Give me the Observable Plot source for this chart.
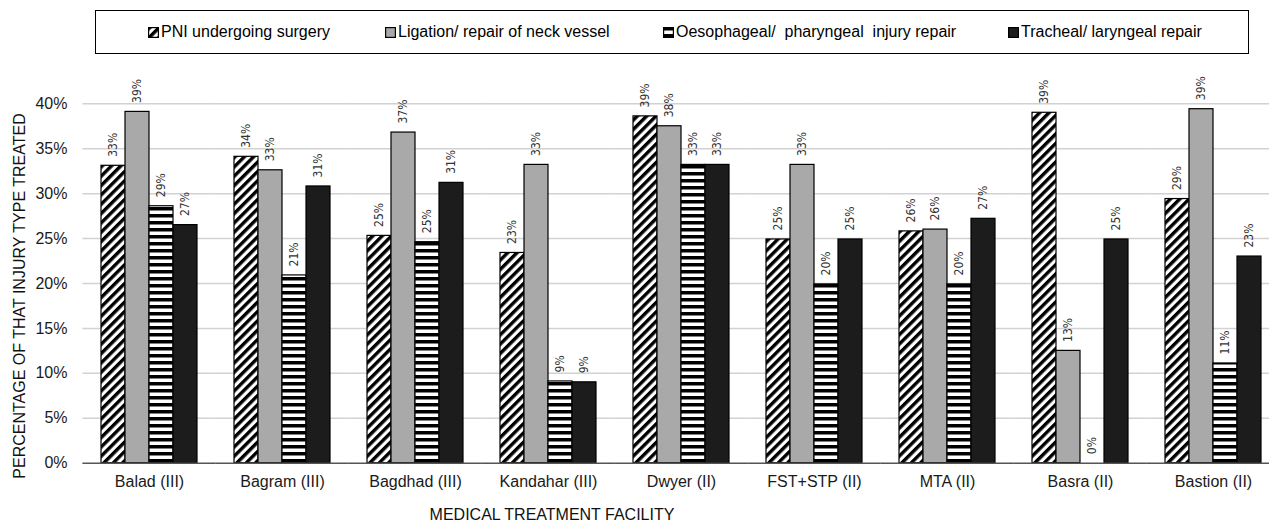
<!DOCTYPE html>
<html>
<head>
<meta charset="utf-8">
<script src="https://cdn.jsdelivr.net/npm/d3@7"></script>
<script src="https://cdn.jsdelivr.net/npm/@observablehq/plot@0.6"></script>
<style>
  body { margin: 0; background: #fff; font-family: "Liberation Sans", Arial, sans-serif; }
  #wrap { position: relative; width: 1269px; height: 523px; overflow: hidden; background: #fff; }
  #legend { position: absolute; left: 95px; top: 10px; width: 1152px; height: 42px; border: 1.4px solid #000;
            font-size: 16px; color: #000; }
  .item { position: absolute; top: 0; height: 42px; display: flex; align-items: center; white-space: pre; }
  .item svg { margin-right: 2px; }
  #chart { position: absolute; left: 0; top: 60px; }
  #ytitle { position: absolute; left: 20px; top: 296px; transform: translate(-50%, -50%) rotate(-90deg);
            white-space: nowrap; font-size: 16px; color: #111; }
  #xtitle { position: absolute; left: 552px; top: 515px; transform: translate(-50%, -50%);
            white-space: nowrap; font-size: 16px; color: #111; }
</style>
</head>
<body>
<div id="wrap">
  <div id="legend"></div>
  <div id="chart"></div>
  <div id="ytitle">PERCENTAGE OF THAT INJURY TYPE TREATED</div>
  <div id="xtitle">MEDICAL TREATMENT FACILITY</div>
</div>
<script>
const facilities = ["Balad (III)", "Bagram (III)", "Bagdhad (III)", "Kandahar (III)", "Dwyer (II)", "FST+STP (II)", "MTA (II)", "Basra (II)", "Bastion (II)"];
const series = ["PNI undergoing surgery", "Ligation/ repair of neck vessel", "Oesophageal/  pharyngeal  injury repair", "Tracheal/ laryngeal repair"];
const pni      = [33.1, 34.1, 25.3, 23.4, 38.6, 24.9, 25.8, 39.0, 29.4];
const ligation = [39.1, 32.6, 36.8, 33.2, 37.5, 33.2, 26.0, 12.5, 39.4];
const oeso     = [28.6, 20.9, 24.6, 9.1, 33.2, 19.9, 19.9, 0, 11.1];
const tracheal = [26.5, 30.8, 31.2, 9.0, 33.2, 24.9, 27.2, 24.9, 23.0];
const yTicks = [0, 0.05, 0.10, 0.15, 0.20, 0.25, 0.30, 0.35, 0.40];
const fills = ["url(#pni)", "#a9a9a9", "url(#oeso)", "#1c1c1c"];
const legendLeft = [52, 289, 567, 912];

const seriesValues = [pni, ligation, oeso, tracheal];
const data = facilities.flatMap((f, i) => series.map((s, j) => ({facility: f, series: s, value: seriesValues[j][i] / 100})));

const chart = Plot.plot({
  width: 1269,
  height: 463,
  marginTop: 43.3,
  marginBottom: 60.3,
  marginLeft: 82,
  marginRight: 0,
  style: {fontFamily: "'Liberation Sans', Arial, sans-serif", fontSize: "16px", color: "#1a1a1a", background: "#fff", overflow: "hidden"},
  fx: {domain: facilities, paddingInner: 0.279, paddingOuter: 0.095, align: 0.71, label: null, axis: "bottom", tickSize: 0, tickPadding: 12},
  x: {domain: series, padding: 0, axis: null},
  y: {domain: [0, 0.4], ticks: yTicks, tickFormat: d3.format(".0%"), label: null, tickSize: 0, tickPadding: 34},
  color: {domain: series, range: fills},
  facet: {data, x: "facility"},
  marks: [
    Plot.ruleY(yTicks.filter(d => d > 0), {stroke: "#d2d2d2", strokeWidth: 1.5, insetLeft: -18.6, insetRight: -18.6}),
    Plot.barY(data, {x: "series", y: "value", fill: "series", stroke: "#000", strokeWidth: 1.2}),
    Plot.ruleY([0], {stroke: "#555", strokeWidth: 1.6, insetLeft: -18.6, insetRight: -18.6}),
    Plot.text(data, {x: "series", y: "value", text: d => Math.round(d.value * 100) + "%", rotate: -90,
      textAnchor: "start", lineAnchor: "middle", dy: -9, fontSize: 12, fill: "#333",
      fontFamily: "'DejaVu Sans Condensed', 'DejaVu Sans', sans-serif"})
  ]
});

// patterns
const defs = d3.create("svg:defs");
const p1 = defs.append("pattern").attr("id", "pni").attr("patternUnits", "userSpaceOnUse")
  .attr("width", 6.6).attr("height", 6.6).attr("patternTransform", "rotate(45)");
p1.append("rect").attr("width", 6.6).attr("height", 6.6).attr("fill", "#fff");
p1.append("rect").attr("width", 3.4).attr("height", 6.6).attr("fill", "#000");
const p2 = defs.append("pattern").attr("id", "oeso").attr("patternUnits", "userSpaceOnUse")
  .attr("width", 7).attr("height", 7);
p2.append("rect").attr("width", 7).attr("height", 7).attr("fill", "#fff");
p2.append("rect").attr("width", 7).attr("height", 3.5).attr("fill", "#000");
chart.insertBefore(defs.node(), chart.firstChild);

document.getElementById("chart").appendChild(chart);

// legend
const legend = d3.select("#legend");
series.forEach((s, j) => {
  const it = legend.append("div").attr("class", "item").style("left", legendLeft[j] + "px");
  const sw = it.append("svg").attr("width", 11).attr("height", 11);
  sw.append("rect").attr("x", 0.6).attr("y", 0.6).attr("width", 9.8).attr("height", 9.8)
    .attr("fill", fills[j]).attr("stroke", "#000").attr("stroke-width", 1.2);
  it.append("span").text(s);
});
</script>
</body>
</html>
